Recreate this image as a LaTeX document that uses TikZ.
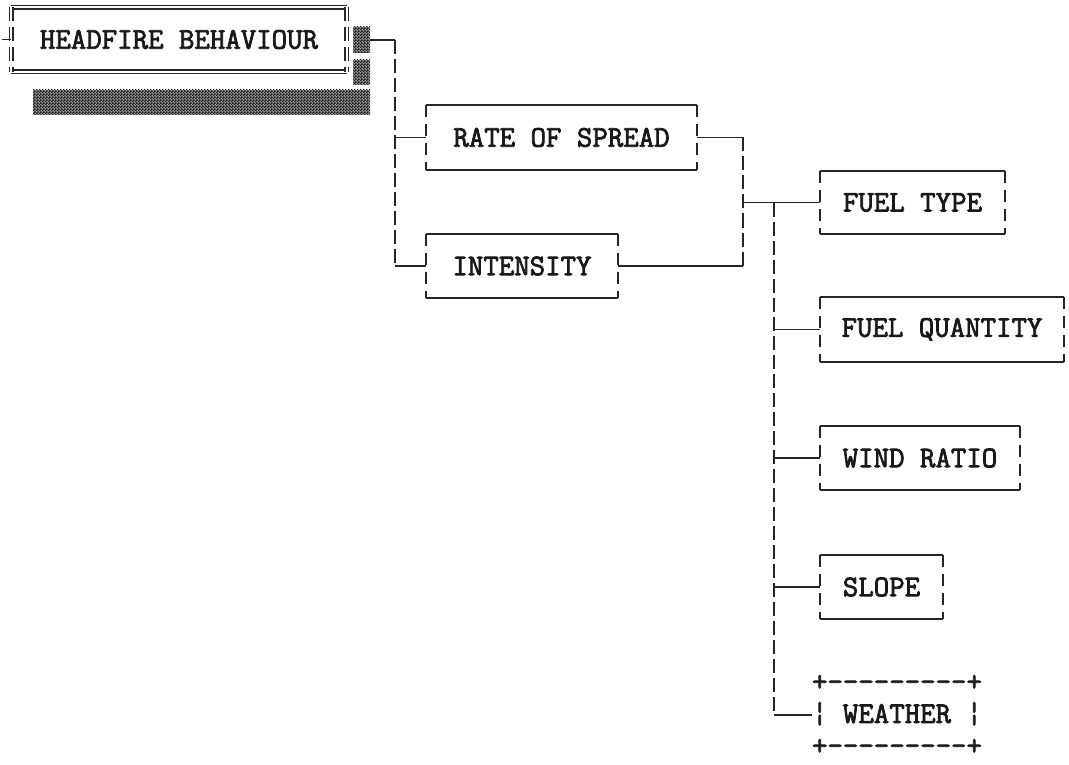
\documentclass[tikz,border=0pt]{standalone}
\usepackage{fontspec}
\newfontfamily\monob{Latin Modern Mono}[FakeBold=2.5]
\usetikzlibrary{patterns}
\pgfdeclarepatternformonly{finecheck}{\pgfqpoint{0pt}{0pt}}{\pgfqpoint{3pt}{3pt}}{\pgfqpoint{3pt}{3pt}}{%
  \pgfpathrectangle{\pgfpointorigin}{\pgfqpoint{1.9pt}{1.9pt}}%
  \pgfpathrectangle{\pgfqpoint{1.5pt}{1.5pt}}{\pgfqpoint{1.9pt}{1.9pt}}%
  \pgfusepath{fill}}
\newcommand\hy{-\kern0pt}
\newcommand\tbox[1]{%
  \draw[ln] (#1.north west) -- (#1.north east) (#1.south west) -- (#1.south east);
  \draw[side] (#1.north west) -- (#1.south west) (#1.north east) -- (#1.south east);}
\begin{document}
\begin{tikzpicture}[x=1pt,y=-1pt,
  lbl/.style={font=\fontsize{30}{32}\selectfont\monob, inner sep=0pt, text=black!90},
  boxn/.style={lbl, minimum height=64pt},
  ln/.style={line width=1.7pt, draw=black!85},
  side/.style={ln, dash pattern=on 12pt off 7pt},
  vln/.style={ln, dash pattern=on 14pt off 5pt},
  dbl/.style={draw=black!85, double=white, double distance=2pt, line width=1.3pt},
  shadow/.style={fill=black!40, postaction={pattern=finecheck, pattern color=black!90}}]
\useasboundingbox (0,0) rectangle (1069,765);

% nodes
\node[boxn, minimum width=335pt, minimum height=64pt] (head) at (179,39.5) {HEADFIRE BEHAVIOUR};
\node[boxn, minimum width=271pt] (ros) at (561.5,137.5) {RATE OF SPREAD};
\node[boxn, minimum width=192pt] (int) at (522,266) {INTENSITY};
\node[boxn, minimum width=185pt, minimum height=62pt] (ft) at (912.5,202.5) {FUEL TYPE};
\node[boxn, minimum width=244pt] (fq) at (942,329.5) {FUEL QUANTITY};
\node[boxn, minimum width=200pt] (wr) at (920,458) {WIND RATIO};
\node[boxn, minimum width=123pt] (sl) at (881.5,587) {SLOPE};
\node[lbl, align=left] (we) at (897,715) {+\hy\hy\hy\hy\hy\hy\hy\hy\hy+\\¦ WEATHER ¦\\+\hy\hy\hy\hy\hy\hy\hy\hy\hy+};

% head box (double frame) and shadow
\draw[dbl] (head.north west) -- (head.north east) (head.south west) -- (head.south east);
\draw[dbl, dash pattern=on 14pt off 6pt] (head.north west) -- (head.south west) (head.north east) -- (head.south east);
\draw[ln] (head.west) -- ++(-9,0);
\path[shadow] (353,27) rectangle (370,53);
\path[shadow] (353,60) rectangle (370,85);
\path[shadow] (33,90) rectangle (370,115);

% boxes
\tbox{ros}
\tbox{int}
\tbox{ft}
\tbox{fq}
\tbox{wr}
\tbox{sl}

% connectors
\coordinate (hout) at (370,40);
\coordinate (j1) at (395,40);
\coordinate (j2) at (743,137.5);
\coordinate (j3) at (774,202.5);
\draw[ln] (hout) -- (j1);
\draw[vln] (j1) -- (j1 |- int.west);
\draw[ln] (j1 |- int.west) -- (int.west);
\draw[ln] (j1 |- ros.west) -- (ros.west);
\draw[ln] (ros.east) -- (j2);
\draw[vln] (j2) -- (j2 |- int.east);
\draw[ln] (j2 |- int.east) -- (int.east);
\draw[ln] (j2 |- ft.west) -- (ft.west);
\draw[vln] (j3) -- (j3 |- we.west);
\draw[ln] (j3 |- we.west) -- (we.west);
\foreach \n in {fq,wr,sl} \draw[ln] (j3 |- \n.west) -- (\n.west);
\end{tikzpicture}
\end{document}
